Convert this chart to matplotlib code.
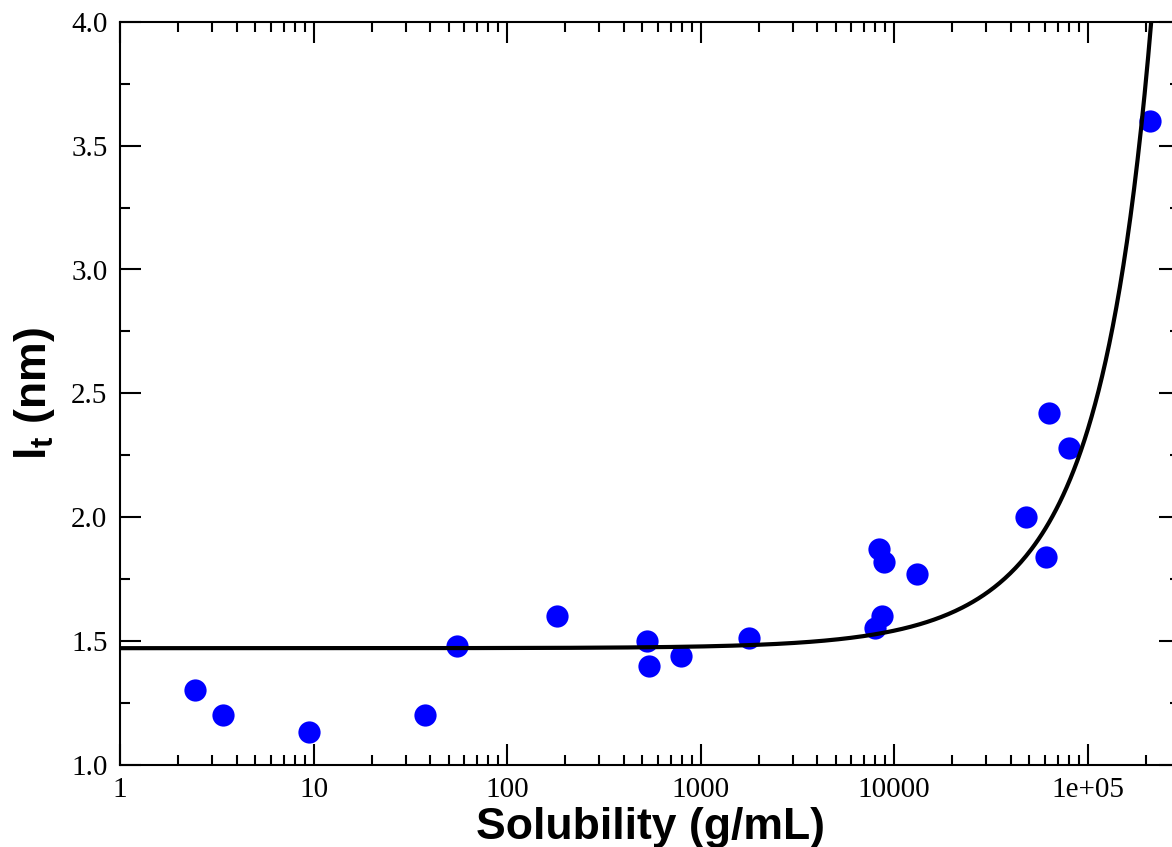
import numpy as np
import matplotlib
matplotlib.use("Agg")
import matplotlib.pyplot as plt
from matplotlib.ticker import FixedLocator, FuncFormatter, LogLocator, MultipleLocator

# measured points (solubility in g/mL, l_t in nm)
solubility = [2.44, 3.4, 9.47, 37.6, 55, 181, 527, 540, 790, 1775,
              8330, 8830, 13100, 8630, 7940, 47900, 60700, 62900, 79800, 2.11e5]
lt_nm = [1.30, 1.20, 1.13, 1.20, 1.48, 1.60, 1.50, 1.40, 1.44, 1.51,
         1.87, 1.82, 1.77, 1.60, 1.55, 2.00, 1.84, 2.42, 2.28, 3.60]

# exponential fit drawn through the data: l_t = a * exp(k * s)
fit_a = 1.47
fit_k = 4.7e-6

x_ticks = [1, 10, 100, 1000, 10000, 1e5]
x_ticklabels = ["1", "10", "100", "1000", "10000", "1e+05"]

plt.rcParams["mathtext.fontset"] = "custom"
plt.rcParams["mathtext.bf"] = "Liberation Sans:bold"
plt.rcParams["mathtext.rm"] = "Liberation Sans"

fig = plt.figure(figsize=(11.72, 8.47), dpi=100)
ax = fig.add_axes([120 / 1172, 82.5 / 847, 1060 / 1172, 742.5 / 847])

ax.plot(solubility, lt_nm, "o", color="#0000ff", markersize=16, markeredgewidth=0, zorder=2)

s = np.logspace(0, np.log10(3e5), 600)
ax.plot(s, fit_a * np.exp(fit_k * s), color="black", linewidth=3, zorder=3)

ax.set_xscale("log")
ax.set_xlim(1, 3e5)
ax.set_ylim(1.0, 4.0)

ax.xaxis.set_major_locator(FixedLocator(x_ticks))
ax.xaxis.set_major_formatter(FuncFormatter(lambda v, p: x_ticklabels[x_ticks.index(v)] if v in x_ticks else ""))
ax.xaxis.set_minor_locator(LogLocator(base=10, subs=np.arange(2, 10), numticks=20))
ax.xaxis.set_minor_formatter(FuncFormatter(lambda v, p: ""))
ax.yaxis.set_major_locator(MultipleLocator(0.5))
ax.yaxis.set_minor_locator(MultipleLocator(0.25))
ax.yaxis.set_major_formatter(FuncFormatter(lambda v, p: f"{v:.1f}"))

ax.tick_params(which="both", direction="in", top=True, right=True, width=1.5)
ax.tick_params(which="major", length=15, pad=9, labelsize=21)
ax.tick_params(which="minor", length=7.5)
for lbl in ax.get_xticklabels() + ax.get_yticklabels():
    lbl.set_fontfamily("Liberation Serif")
for sp in ax.spines.values():
    sp.set_linewidth(1.5)

ax.set_xlabel("Solubility (g/mL)", fontsize=32, fontweight="bold", family="Liberation Sans", labelpad=3)
ax.set_ylabel(r"$\mathbf{l_t}$ (nm)", fontsize=32, fontweight="bold", family="Liberation Sans", labelpad=10)

fig.savefig("out.png", dpi=100)
